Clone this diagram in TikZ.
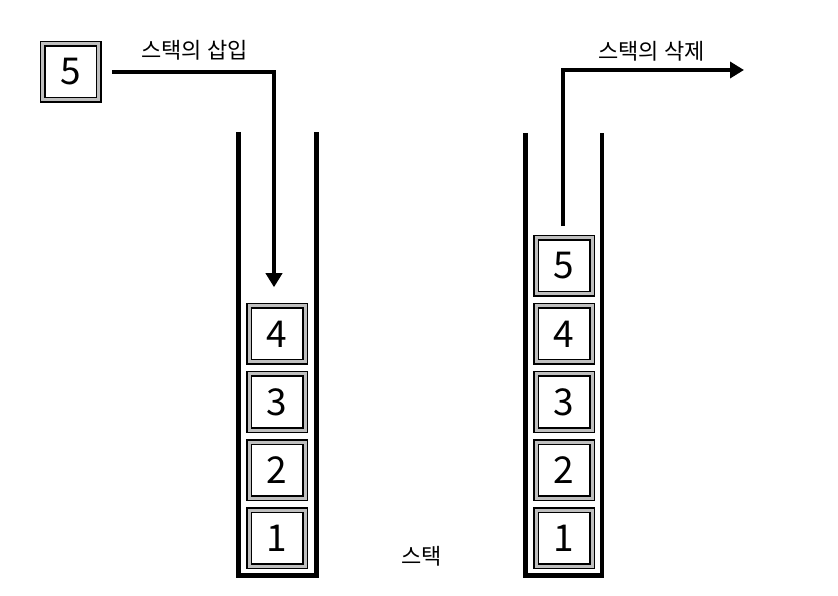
\documentclass[tikz,border=0pt]{standalone}
\usepackage{fontspec}
\setmainfont{Noto Sans CJK KR}
\usepackage{tikz}
\usetikzlibrary{arrows.meta}

\begin{document}
\begin{tikzpicture}[x=1pt,y=1pt,>={Stealth[length=14pt,width=16pt,inset=0pt]},line width=4.5pt,node distance=68pt,
  box/.style={rectangle,draw,double=gray!50,double distance=3pt,line width=1.5pt,fill=white,minimum size=56pt,inner sep=0pt,font=\fontsize{37}{37}\selectfont},
  flow/.style={->,line width=4.5pt},
  caption/.style={font=\fontsize{22}{22}\selectfont}]
  \useasboundingbox (0,0) rectangle (838,595);
  % containers
  \draw (238.5,463) -- (238.5,19.5) -- (316.5,19.5) -- (316.5,463);
  \draw (525.5,462) -- (525.5,19.5) -- (602,19.5) -- (602,462);
  % left stack
  \node[box] (l1) at (277,57) {1};
  \node[box] (l2) [above of=l1] {2};
  \node[box] (l3) [above of=l2] {3};
  \node[box] (l4) [above of=l3] {4};
  % right stack
  \node[box] (r1) at (564,57) {1};
  \node[box] (r2) [above of=r1] {2};
  \node[box] (r3) [above of=r2] {3};
  \node[box] (r4) [above of=r3] {4};
  \node[box] (r5) [above of=r4] {5};
  % push / pop
  \node[box] (in5) at (70.5,523) {5};
  \coordinate (out) at (744,525);
  \draw[flow,shorten <=13pt,shorten >=18pt] (in5) -| ([xshift=-3pt]l4.north);
  \draw[flow,shorten <=11pt] ([xshift=-1pt]r5.north) |- (out);
  \node[caption] (push) at (194.5,545) {스택의 삽입};
  \node[caption] (pop) at (651.5,543.5) {스택의 삭제};
  \node[caption] (stack) at (421.5,39) {스택};
\end{tikzpicture}
\end{document}
